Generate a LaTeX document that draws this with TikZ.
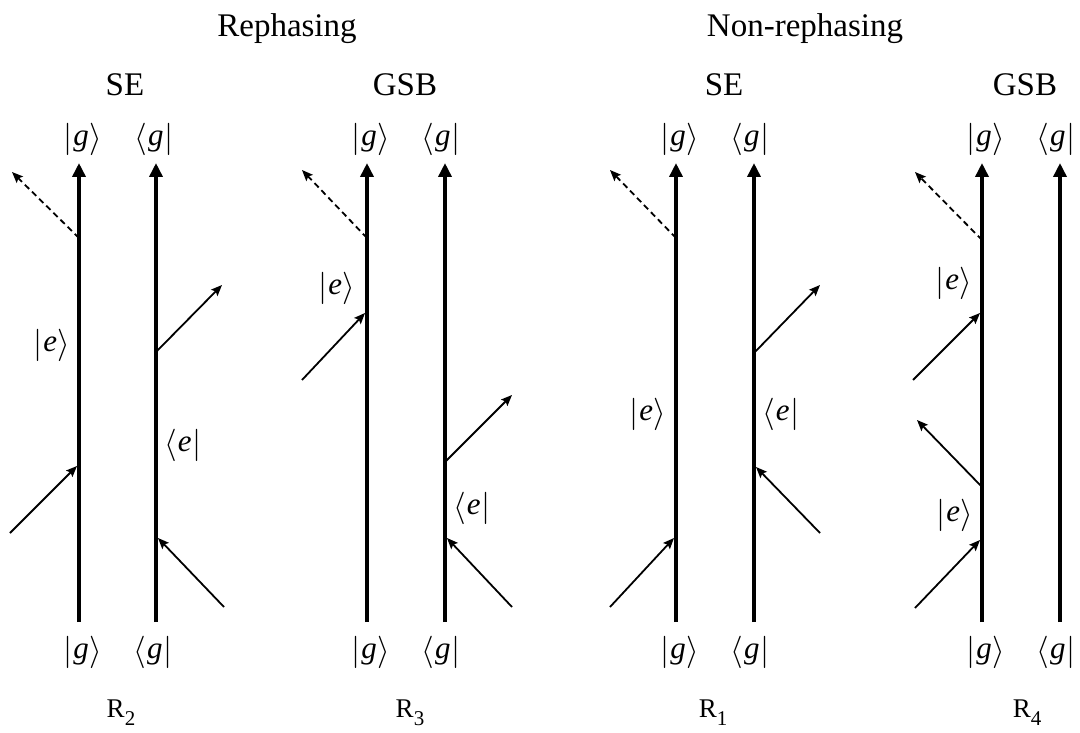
\documentclass[tikz,border=0pt]{standalone}
\usepackage{fontspec}
\setmainfont{Liberation Serif}
\usetikzlibrary{arrows.meta}
\newcommand{\bigdelim}[1]{\raisebox{-1.5pt}{\scalebox{1.3}{$#1$}}}
\newcommand{\myket}[1]{\bigdelim{|}\kern0.5pt\textit{#1}\kern0.5pt\bigdelim{\rangle}}
\newcommand{\mybra}[1]{\bigdelim{\langle}\kern0.5pt\textit{#1}\kern0.5pt\bigdelim{|}}
\begin{document}
\begin{tikzpicture}[x=1pt,y=-1pt,
  wire/.style={line width=4pt,-{Triangle[length=14pt,width=13pt]}},
  field/.style={line width=1.8pt,-{Stealth[length=11pt,width=9pt,inset=2pt]}},
  emitted/.style={field,dash pattern=on 6pt off 4pt},
  title/.style={font=\fontsize{33}{36}\selectfont,inner sep=0pt,anchor=base},
  ket/.style={font=\fontsize{31}{34}\selectfont,inner sep=0pt},
  rlabel/.style={font=\fontsize{27}{30}\selectfont,inner sep=0pt,anchor=base}]
\useasboundingbox (0,0) rectangle (1080,733);

% titles
\node[title] (treph) at (287,37) {Rephasing};
\node[title] (tnonreph) at (805,37) {Non-rephasing};
\node[title] (tse1) at (125,96) {SE};
\node[title] (tgsb1) at (405,96) {GSB};
\node[title] (tse2) at (724,96) {SE};
\node[title] (tgsb2) at (1025,96) {GSB};

% R labels
\node[rlabel] (r2) at (121,717) {R\raisebox{-0.33em}{\fontsize{21}{21}\selectfont 2}};
\node[rlabel] (r3) at (410,717) {R\raisebox{-0.33em}{\fontsize{21}{21}\selectfont 3}};
\node[rlabel] (r1) at (713,717) {R\raisebox{-0.33em}{\fontsize{21}{21}\selectfont 1}};
\node[rlabel] (r4) at (1027,717) {R\raisebox{-0.33em}{\fontsize{21}{21}\selectfont 4}};

% ===== Diagram R2 (SE rephasing) =====
\coordinate (aLb) at (79,622);  \coordinate (aLt) at (79,163);
\coordinate (aRb) at (156,622); \coordinate (aRt) at (156,163);
\draw[wire] (aLb) -- (aLt);
\draw[wire] (aRb) -- (aRt);
\node[ket] (aLtop) at (83,139) {\myket{g}};
\node[ket] (aRtop) at (154,139) {\mybra{g}};
\node[ket] (aLbot) at (83,652) {\myket{g}};
\node[ket] (aRbot) at (153,652) {\mybra{g}};
\node[ket] (ae1) at (52,345) {\myket{e}};
\node[ket] (ae2) at (183,445) {\mybra{e}};
\coordinate (a1s) at (79,238);  \coordinate (a1e) at (12,172);
\coordinate (a2s) at (156,352); \coordinate (a2e) at (222,285);
\coordinate (a3s) at (10,533);  \coordinate (a3e) at (77,466);
\coordinate (a4s) at (224,607); \coordinate (a4e) at (158,538);
\draw[emitted] (a1s) -- (a1e);
\draw[field] (a2s) -- (a2e);
\draw[field] (a3s) -- (a3e);
\draw[field] (a4s) -- (a4e);

% ===== Diagram R3 (GSB rephasing) =====
\coordinate (bLb) at (367,622); \coordinate (bLt) at (367,163);
\coordinate (bRb) at (445,622); \coordinate (bRt) at (445,163);
\draw[wire] (bLb) -- (bLt);
\draw[wire] (bRb) -- (bRt);
\node[ket] (bLtop) at (371,139) {\myket{g}};
\node[ket] (bRtop) at (441,139) {\mybra{g}};
\node[ket] (bLbot) at (371,652) {\myket{g}};
\node[ket] (bRbot) at (441,652) {\mybra{g}};
\node[ket] (be1) at (337,288) {\myket{e}};
\node[ket] (be2) at (472,508) {\mybra{e}};
\coordinate (b1s) at (367,238); \coordinate (b1e) at (302,170);
\coordinate (b2s) at (302,380); \coordinate (b2e) at (365,313);
\coordinate (b3s) at (445,462); \coordinate (b3e) at (512,395);
\coordinate (b4s) at (512,607); \coordinate (b4e) at (447,538);
\draw[emitted] (b1s) -- (b1e);
\draw[field] (b2s) -- (b2e);
\draw[field] (b3s) -- (b3e);
\draw[field] (b4s) -- (b4e);

% ===== Diagram R1 (SE non-rephasing) =====
\coordinate (cLb) at (676,622); \coordinate (cLt) at (676,163);
\coordinate (cRb) at (754,622); \coordinate (cRt) at (754,163);
\draw[wire] (cLb) -- (cLt);
\draw[wire] (cRb) -- (cRt);
\node[ket] (cLtop) at (680,139) {\myket{g}};
\node[ket] (cRtop) at (750,139) {\mybra{g}};
\node[ket] (cLbot) at (680,652) {\myket{g}};
\node[ket] (cRbot) at (750,652) {\mybra{g}};
\node[ket] (ce1) at (648,414) {\myket{e}};
\node[ket] (ce2) at (781,414) {\mybra{e}};
\coordinate (c1s) at (676,238); \coordinate (c1e) at (610,170);
\coordinate (c2s) at (754,353); \coordinate (c2e) at (820,285);
\coordinate (c3s) at (820,533); \coordinate (c3e) at (756,467);
\coordinate (c4s) at (610,607); \coordinate (c4e) at (674,538);
\draw[emitted] (c1s) -- (c1e);
\draw[field] (c2s) -- (c2e);
\draw[field] (c3s) -- (c3e);
\draw[field] (c4s) -- (c4e);

% ===== Diagram R4 (GSB non-rephasing) =====
\coordinate (dLb) at (982,622);  \coordinate (dLt) at (982,163);
\coordinate (dRb) at (1060,622); \coordinate (dRt) at (1060,163);
\draw[wire] (dLb) -- (dLt);
\draw[wire] (dRb) -- (dRt);
\node[ket] (dLtop) at (986,139) {\myket{g}};
\node[ket] (dRtop) at (1056,139) {\mybra{g}};
\node[ket] (dLbot) at (986,652) {\myket{g}};
\node[ket] (dRbot) at (1056,652) {\mybra{g}};
\node[ket] (de1) at (954,283) {\myket{e}};
\node[ket] (de2) at (955,515) {\myket{e}};
\coordinate (d1s) at (982,240); \coordinate (d1e) at (915,172);
\coordinate (d2s) at (913,380); \coordinate (d2e) at (980,313);
\coordinate (d3s) at (982,487); \coordinate (d3e) at (917,420);
\coordinate (d4s) at (915,608); \coordinate (d4e) at (980,540);
\draw[emitted] (d1s) -- (d1e);
\draw[field] (d2s) -- (d2e);
\draw[field] (d3s) -- (d3e);
\draw[field] (d4s) -- (d4e);
\end{tikzpicture}
\end{document}
